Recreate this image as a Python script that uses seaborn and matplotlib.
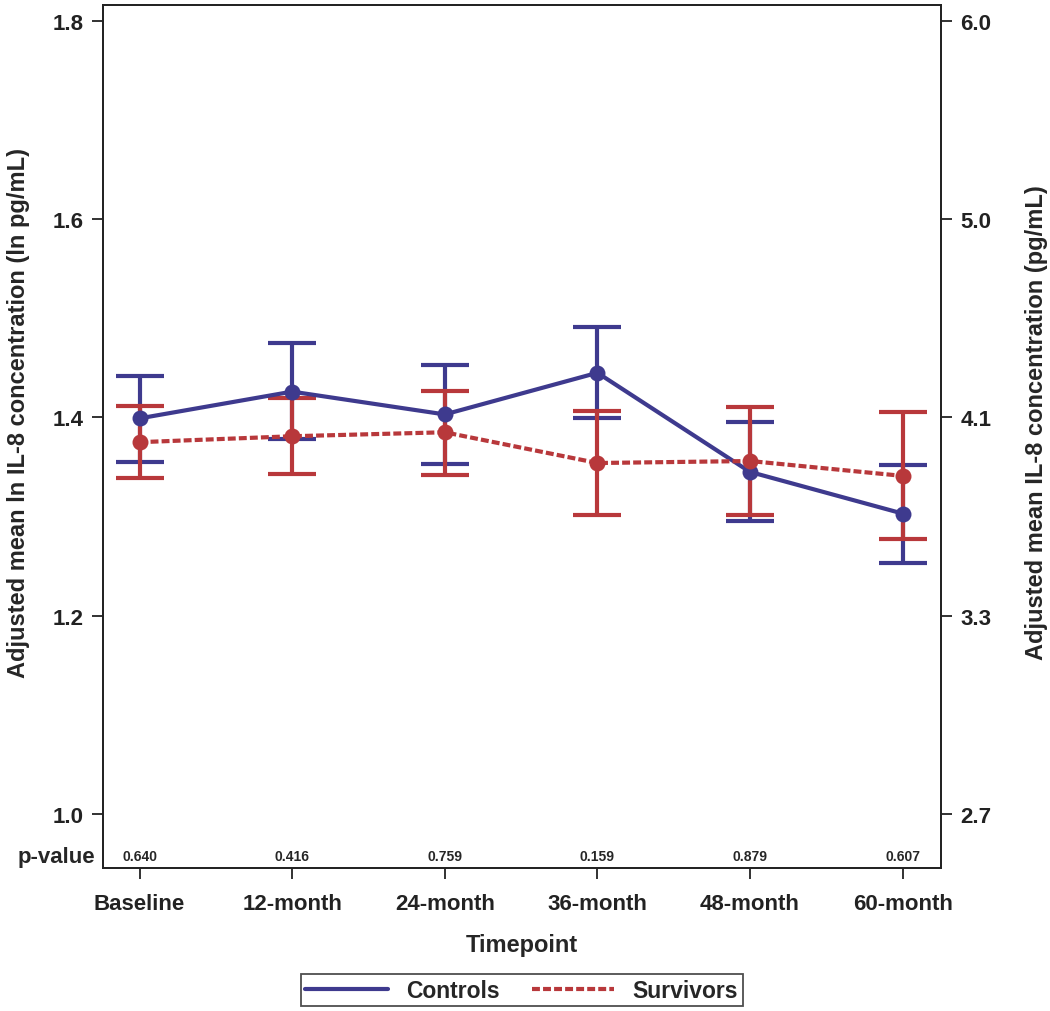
import numpy as np
import pandas as pd
import matplotlib
matplotlib.use("Agg")
import matplotlib.pyplot as plt
import seaborn as sns

# data
timepoints = ["Baseline", "12-month", "24-month", "36-month", "48-month", "60-month"]
p_values = ["0.640", "0.416", "0.759", "0.159", "0.879", "0.607"]

controls_mean = [1.399, 1.426, 1.403, 1.445, 1.345, 1.303]
controls_lo = [1.355, 1.378, 1.353, 1.399, 1.296, 1.253]
controls_hi = [1.442, 1.475, 1.453, 1.491, 1.395, 1.352]

survivors_mean = [1.375, 1.381, 1.385, 1.354, 1.356, 1.341]
survivors_lo = [1.339, 1.343, 1.342, 1.302, 1.302, 1.277]
survivors_hi = [1.411, 1.420, 1.427, 1.406, 1.410, 1.405]

left_ticks = [1.0, 1.2, 1.4, 1.6, 1.8]
right_labels = ["2.7", "3.3", "4.1", "5.0", "6.0"]

blue = "#3e3a8e"
red = "#b8383b"

sns.set_style("ticks")
plt.rcParams['font.family'] = ['Liberation Sans', 'DejaVu Sans']
plt.rcParams['font.weight'] = 'bold'
plt.rcParams['axes.labelweight'] = 'bold'

df = pd.DataFrame({
    "pos": list(range(len(timepoints))) * 2,
    "mean": controls_mean + survivors_mean,
    "lo": controls_lo + survivors_lo,
    "hi": controls_hi + survivors_hi,
    "group": ["Controls"] * len(timepoints) + ["Survivors"] * len(timepoints),
})

fig = plt.figure(figsize=(10.5, 10.12), dpi=100)
ax = fig.add_axes([0.098, 0.1413, 0.798, 0.8528])

styles = {"Controls": (blue, "-"), "Survivors": (red, (0, (1.9, 0.75)))}
for name, sub in df.groupby("group"):
    col, ls = styles[name]
    ax.errorbar(sub["pos"], sub["mean"],
                yerr=[sub["mean"] - sub["lo"], sub["hi"] - sub["mean"]],
                fmt="none", ecolor=col, elinewidth=3, capsize=17, capthick=3, zorder=2)

sns.lineplot(data=df, x="pos", y="mean", hue="group", style="group",
             palette={"Controls": blue, "Survivors": red},
             dashes={"Controls": "", "Survivors": (1.9, 0.75)},
             markers={"Controls": "o", "Survivors": "o"},
             markersize=11.5, markeredgewidth=0, linewidth=3, ax=ax, legend=False, zorder=3)

ax.set_xlim(-0.24, 5.25)
ax.set_ylim(0.9455, 1.816)
ax.set_xticks(range(len(timepoints)))
ax.set_xticklabels(timepoints)
ax.set_yticks(left_ticks)
ax.set_yticklabels([f"{v:.1f}" for v in left_ticks])
ax.set_xlabel("Timepoint", fontsize=17, labelpad=14)
ax.set_ylabel("Adjusted mean ln IL-8 concentration (ln pg/mL)", fontsize=17)
ax.yaxis.set_label_coords(-0.087, 0.528)
ax.tick_params(axis="both", labelsize=16, length=8, width=1.3, pad=6, colors="#222222")
ax.tick_params(axis="x", pad=10)

for s in ax.spines.values():
    s.set_linewidth(1.3)
    s.set_color("#222222")

# p-values along the bottom
for i, p in enumerate(p_values):
    ax.text(i, 0.9455 + 0.012, p, ha="center", va="center", fontsize=10, fontweight="bold")
ax.text(-0.29, 0.9455 + 0.012, "p-value", ha="right", va="center", fontsize=16,
        fontweight="bold", transform=ax.transData, clip_on=False)

# right axis in pg/mL
ax2 = ax.twinx()
ax2.set_ylim(ax.get_ylim())
ax2.set_yticks(left_ticks)
ax2.set_yticklabels(right_labels)
ax2.set_ylabel("Adjusted mean IL-8 concentration (pg/mL)", fontsize=17)
ax2.yaxis.set_label_coords(1.1, 0.517)
ax2.tick_params(axis="y", labelsize=16, length=8, width=1.3, pad=6, colors="#222222")
for s in ax2.spines.values():
    s.set_linewidth(1.3)
    s.set_color("#222222")

handles = [plt.Line2D([], [], color=blue, lw=3, ls="-"),
           plt.Line2D([], [], color=red, lw=3, ls=(0, (1.9, 0.75)))]
leg = fig.legend(handles, ["Controls", "Survivors"], loc="center", bbox_to_anchor=(0.497, 0.0207),
                 ncol=2, frameon=True, fancybox=False, edgecolor="#222222", fontsize=16.5,
                 handlelength=3.6, columnspacing=1.4, borderpad=0.2, handletextpad=0.8)
leg.get_frame().set_linewidth(1.3)

fig.savefig("out.png", dpi=100)
